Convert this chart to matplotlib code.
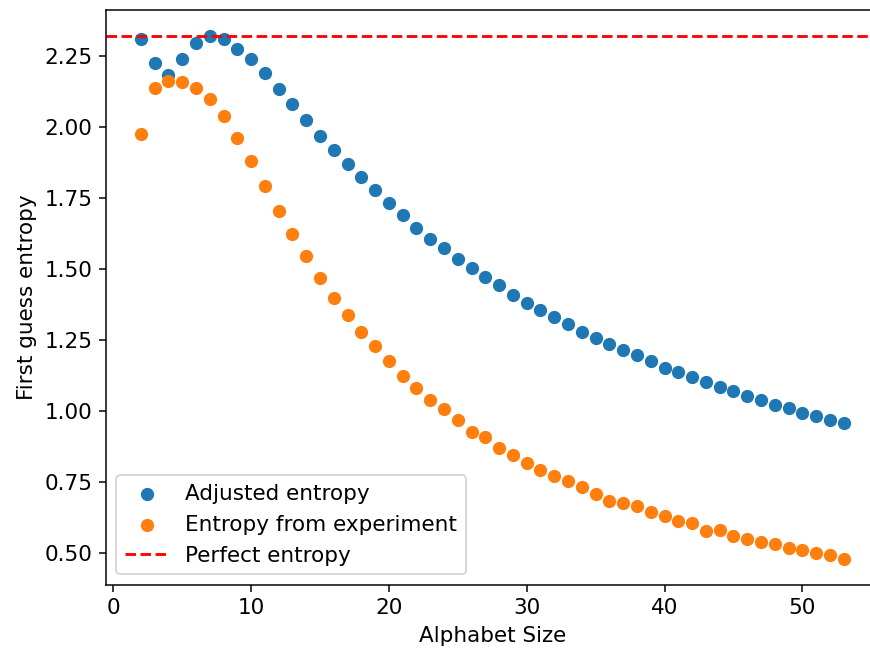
import matplotlib
matplotlib.use("Agg")
import matplotlib.pyplot as plt

alphabet_sizes = list(range(2, 54))

adjusted_entropy = [
    2.309, 2.226, 2.183, 2.238, 2.297, 2.320, 2.309, 2.276, 2.238, 2.189,
    2.133, 2.080, 2.025, 1.969, 1.920, 1.870, 1.823, 1.779, 1.733, 1.691,
    1.646, 1.607, 1.575, 1.537, 1.504, 1.471, 1.443, 1.410, 1.382, 1.356,
    1.330, 1.307, 1.279, 1.258, 1.235, 1.214, 1.197, 1.175, 1.152, 1.138,
    1.119, 1.104, 1.086, 1.072, 1.055, 1.039, 1.022, 1.010, 0.995, 0.984,
    0.969, 0.958,
]

experiment_entropy = [
    1.975, 2.139, 2.162, 2.160, 2.139, 2.100, 2.039, 1.963, 1.882, 1.792,
    1.706, 1.624, 1.546, 1.470, 1.400, 1.339, 1.279, 1.230, 1.175, 1.125,
    1.083, 1.038, 1.007, 0.968, 0.928, 0.908, 0.870, 0.847, 0.819, 0.794,
    0.770, 0.755, 0.733, 0.710, 0.683, 0.677, 0.665, 0.645, 0.630, 0.612,
    0.607, 0.577, 0.583, 0.562, 0.551, 0.539, 0.534, 0.519, 0.510, 0.499,
    0.492, 0.480,
]

perfect_entropy = 2.322

plt.rcParams['font.size'] = 11.4

fig = plt.figure(figsize=(870 / 136, 651 / 136), dpi=136)
ax = fig.add_axes([0.1215, 0.1014, 0.8886, 0.8832])

ax.scatter(alphabet_sizes, adjusted_entropy, label='Adjusted entropy')
ax.scatter(alphabet_sizes, experiment_entropy, label='Entropy from experiment')
ax.axhline(perfect_entropy, color='r', linestyle='--', label='Perfect entropy')

ax.set_xlabel('Alphabet Size')
ax.set_ylabel('First guess entropy')
ax.legend(loc='lower left')

fig.savefig('out.png', dpi=136)
